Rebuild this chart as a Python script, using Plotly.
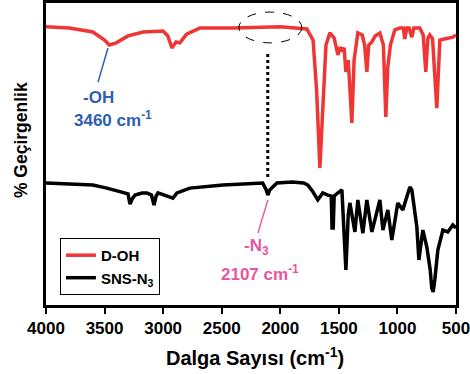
import plotly.graph_objects as go

# D-OH spectrum (wavenumber, % transmittance - arbitrary scale 0-100)
doh_wn = [4000, 3800, 3600, 3500, 3460, 3400, 3300, 3170, 3000, 2960, 2925, 2890, 2857, 2800, 2686,
          2400, 2000, 1800, 1773, 1720, 1690, 1662, 1640, 1610, 1577, 1540, 1508, 1490, 1474, 1455,
          1440, 1420, 1389, 1370, 1338, 1300, 1280, 1261, 1245, 1218, 1190, 1150, 1120, 1099, 1082,
          1060, 1022, 980, 950, 937, 920, 900, 877, 860, 809, 780, 758, 740, 724, 700, 664, 650, 638,
          600, 527, 500]
doh_t = [92.1, 91.7, 90.4, 87.7, 86.1, 86.8, 89.1, 90.4, 90.7, 89.1, 85.1, 87.1, 86.8, 89.7, 91.7,
         91.7, 92.1, 91.7, 91.4, 87.7, 71.2, 45.4, 64.6, 86.1, 90.1, 88.4, 82.8, 85.4, 84.4, 85.1,
         77.2, 81.1, 60.3, 81.1, 90.1, 89.4, 86.1, 77.2, 86.1, 87.1, 89.1, 90.1, 86.1, 62.3, 78.8,
         86.1, 91.1, 91.7, 91.7, 88.1, 91.7, 91.7, 88.7, 91.7, 91.7, 89.4, 77.2, 88.4, 89.4, 88.1,
         65.2, 81.1, 87.7, 88.1, 88.7, 89.4]

# SNS-N3 spectrum
sns_wn = [4000, 3800, 3600, 3480, 3343, 3300, 3283, 3260, 3240, 3180, 3138, 3100, 3078, 3060, 3044,
          2960, 2916, 2882, 2771, 2490, 2234, 2150, 2120, 2106, 2090, 2029, 1900, 1800, 1764, 1720,
          1680, 1637, 1594, 1565, 1558, 1548, 1540, 1474, 1440, 1420, 1406, 1363, 1338, 1295, 1261,
          1218, 1150, 1124, 1082, 1048, 997, 954, 894, 877, 834, 817, 783, 749, 720, 707, 695, 681,
          655, 612, 570, 527, 500]
sns_t = [40.4, 40.1, 39.7, 38.7, 37.4, 36.8, 33.4, 35.4, 36.4, 37.1, 37.1, 36.4, 33.1, 36.1, 37.1,
         36.1, 35.4, 37.1, 38.7, 39.7, 40.4, 40.4, 38.1, 36.4, 38.1, 40.4, 40.7, 40.4, 39.7, 37.4,
         34.8, 37.1, 36.4, 36.1, 25.5, 25.5, 36.1, 38.1, 11.6, 29.8, 33.8, 24.2, 34.8, 23.8, 34.8,
         24.2, 34.8, 24.8, 31.5, 21.5, 33.8, 31.5, 39.1, 38.1, 25.8, 14.9, 24.8, 19.2, 11.6, 5.6,
         4.3, 8.3, 18.2, 24.8, 24.2, 26.5, 25.5]

tick_vals = [4000, 3500, 3000, 2500, 2000, 1500, 1000, 500]

FONT = "Arial, Liberation Sans, sans-serif"
BLUE = "#2e5fb0"
PINK = "#e8569f"


def bfont(size, color="black"):
    return dict(family=FONT, size=size, color=color, weight="bold")


fig = go.Figure()
fig.add_trace(go.Scatter(x=doh_wn, y=doh_t, mode="lines", name="D-OH",
                         line=dict(color="#f03535", width=3.5)))
fig.add_trace(go.Scatter(x=sns_wn, y=sns_t, mode="lines", name="SNS-N<sub>3</sub>",
                         line=dict(color="black", width=3.5)))

# dashed ellipse around azide region
fig.add_shape(type="circle", xref="x", yref="y", x0=2353, x1=1816, y0=86.8, y1=97.0,
              line=dict(color="black", width=1, dash="dash"))
# dotted vertical line
fig.add_shape(type="line", xref="x", yref="y", x0=2107, x1=2107, y0=42.4, y1=83.4,
              line=dict(color="black", width=3, dash="dot"))
# -OH pointer
fig.add_shape(type="line", xref="x", yref="y", x0=3471, x1=3556, y0=85.1, y1=73.8,
              line=dict(color=BLUE, width=1.5))
# -N3 pointer
fig.add_shape(type="line", xref="x", yref="y", x0=2106, x1=2191, y0=34.8, y1=23.8,
              line=dict(color=PINK, width=1.5))

fig.add_annotation(x=3555, y=68.8, xref="x", yref="y", text="-OH", showarrow=False,
                   font=bfont(17, BLUE))
fig.add_annotation(x=3430, y=61.5, xref="x", yref="y", text="3460 cm<sup>-1</sup>",
                   showarrow=False, font=bfont(17, BLUE))
fig.add_annotation(x=2205, y=19.2, xref="x", yref="y", text="-N<sub>3</sub>", showarrow=False,
                   font=bfont(17, PINK))
fig.add_annotation(x=2170, y=10.5, xref="x", yref="y", text="2107 cm<sup>-1</sup>",
                   showarrow=False, font=bfont(17, PINK))

# axis titles as positioned annotations
fig.add_annotation(x=-0.061, y=0.546, xref="paper", yref="paper", text="% Geçirgenlik",
                   textangle=-90, showarrow=False, xanchor="center", yanchor="middle",
                   font=bfont(17.5))
fig.add_annotation(x=0.51, y=-0.169, xref="paper", yref="paper",
                   text="Dalga Sayısı (cm<sup>-1</sup>)", showarrow=False,
                   xanchor="center", yanchor="middle", font=bfont(20))

fig.update_layout(
    width=470, height=374,
    margin=dict(l=46, r=14, t=3, b=69, autoexpand=False),
    paper_bgcolor="white", plot_bgcolor="white",
    font=dict(family=FONT, color="black"),
    showlegend=True,
    legend=dict(x=0.034, y=0.222, xanchor="left", yanchor="top",
                bordercolor="black", borderwidth=1, bgcolor="white",
                font=bfont(15), tracegroupgap=0, itemwidth=30),
    xaxis=dict(range=[4000, 500], tickvals=tick_vals, ticks="outside", ticklen=6, tickwidth=2,
               tickcolor="black", showline=True, linecolor="black", linewidth=3, mirror=True,
               showgrid=False, zeroline=False, automargin=False, ticklabeloverflow="allow",
               tickfont=bfont(17)),
    yaxis=dict(range=[0, 100], showticklabels=False, ticks="", showline=True, linecolor="black",
               linewidth=3, mirror=True, showgrid=False, zeroline=False, automargin=False),
)
fig.write_html("out.html", config={"displayModeBar": False},
               post_script="document.body.style.margin='0';document.body.style.overflow='hidden';")
